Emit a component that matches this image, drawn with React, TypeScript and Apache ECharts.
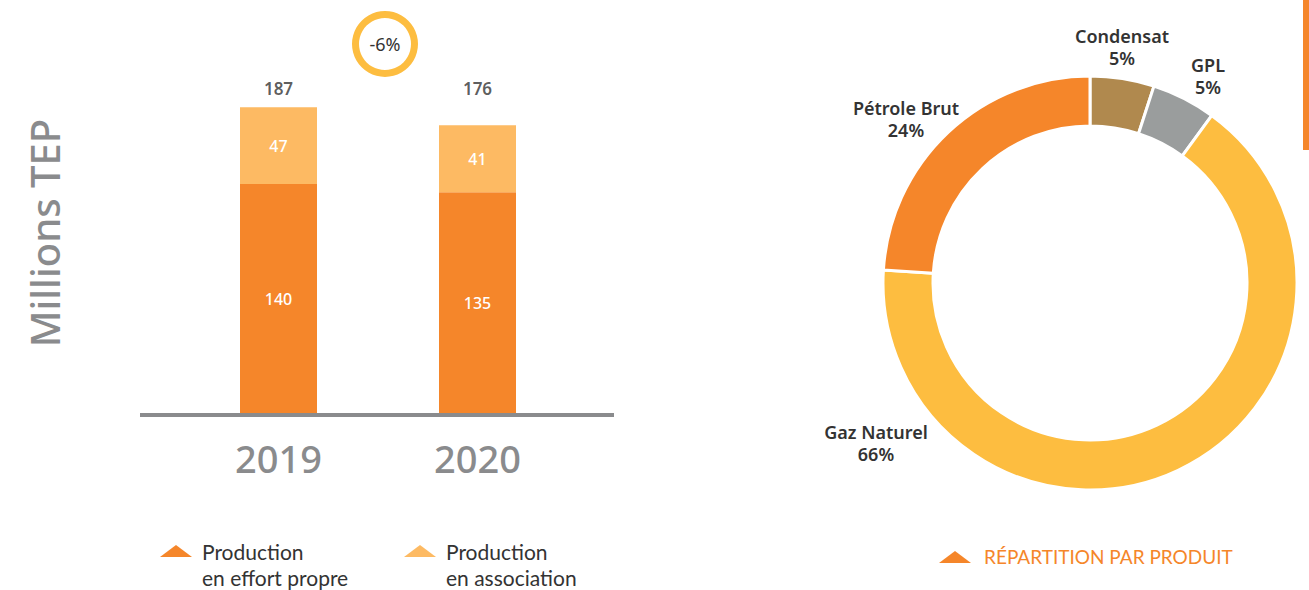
import React, { useEffect, useRef } from "react";
import * as echarts from "echarts";

// ---- Data ----
const years = ["2019", "2020"];
const effortPropre = [140, 135];
const association = [47, 41];
const products = ["Condensat", "GPL", "Gaz Naturel", "Pétrole Brut"];
const productShares = [5, 5, 66, 24];

const seriesNames = ["Production en effort propre", "Production en association"];
const legendLines = [
  ["Production", "en effort propre"],
  ["Production", "en association"],
];
const captionText = "RÉPARTITION PAR PRODUIT";

// ---- Styles ----
const ORANGE = "#F5862A";
const LIGHT_ORANGE = "#FDBA63";
const productColors = ["#B0894E", "#9A9D9D", "#FDBD40", "#F5862A"];
const DARK = "#333333";
const GREY = "#8A8B8D";
const Y_MAX = 200;

export default function App() {
  const ref = useRef<HTMLDivElement>(null);

  useEffect(() => {
    if (!ref.current) return;
    const chart = echarts.init(ref.current, undefined, { renderer: "svg" });

    const totals = years.map((_, i) => effortPropre[i] + association[i]);
    const change = Math.round(((totals[1] - totals[0]) / totals[0]) * 100);

    const labelPos: [number, number][] = [
      [1122, 47],
      [1208, 76],
      [876, 443],
      [906, 119],
    ];

    const makeLegend = (i: number, left: number) => ({
      data: [seriesNames[i]],
      left,
      top: 512,
      padding: 0,
      itemWidth: 32,
      itemHeight: 12,
      icon: "path://M0,12L16,0L32,12Z",
      selectedMode: false,
      formatter: () =>
        "{t|}\n" + legendLines[i].map((l) => `{t|${l}}`).join("\n"),
      textStyle: {
        fontFamily: "Lato",
        fontSize: 21,
        color: DARK,
        lineHeight: 26,
        rich: {
          t: {
            fontFamily: "Lato",
            fontSize: 21,
            color: DARK,
            lineHeight: 26,
            padding: [0, 0, 0, 5],
          },
        },
      },
    });

    const option: any = {
      animation: false,
      backgroundColor: "#ffffff",
      title: {
        text: captionText,
        left: 984,
        top: 544,
        padding: 0,
        textStyle: {
          fontFamily: "Lato",
          fontSize: 19,
          fontWeight: "normal",
          color: ORANGE,
          lineHeight: 24,
        },
      },
      legend: [makeLegend(0, 160), makeLegend(1, 404)],
      grid: { left: 179, right: 732, top: 86, bottom: 177, containLabel: false },
      xAxis: {
        type: "category",
        data: years,
        axisLine: { show: false },
        axisTick: { show: false },
        axisLabel: {
          margin: 26,
          fontFamily: "Noto Sans",
          fontSize: 38,
          fontWeight: 500,
          color: GREY,
        },
      },
      yAxis: {
        type: "value",
        min: 0,
        max: Y_MAX,
        show: false,
        splitLine: { show: false },
      },
      series: [
        {
          name: seriesNames[0],
          type: "bar",
          stack: "prod",
          barWidth: 77,
          data: effortPropre,
          itemStyle: { color: ORANGE },
          label: {
            show: true,
            position: "inside",
            color: "#ffffff",
            fontFamily: "Noto Sans",
            fontSize: 16,
            fontWeight: 500,
          },
          silent: true,
        },
        {
          name: seriesNames[1],
          type: "bar",
          stack: "prod",
          barWidth: 77,
          data: association,
          itemStyle: { color: LIGHT_ORANGE },
          label: {
            show: true,
            position: "inside",
            color: "#ffffff",
            fontFamily: "Noto Sans",
            fontSize: 16,
            fontWeight: 500,
          },
          silent: true,
        },
        {
          name: "Total",
          type: "scatter",
          data: totals.map((t, i) => ({ value: [i, Y_MAX], total: t })),
          symbolSize: 0,
          silent: true,
          label: {
            show: true,
            position: "inside",
            offset: [0, 2],
            formatter: (p: any) => String(totals[p.dataIndex]),
            color: DARK,
            fontFamily: "Noto Sans",
            fontSize: 17,
            fontWeight: 600,
          },
        },
        {
          name: "Produits",
          type: "pie",
          center: [1090, 283],
          radius: [157, 207],
          startAngle: 90,
          clockwise: true,
          silent: true,
          data: products.map((p, i) => ({
            name: p,
            value: productShares[i],
            itemStyle: { color: productColors[i] },
          })),
          itemStyle: { borderColor: "#ffffff", borderWidth: 3 },
          label: {
            show: true,
            position: "inside",
            rotate: 0,
            formatter: "{b}\n{c}%",
            color: DARK,
            fontFamily: "Noto Sans",
            fontSize: 18,
            fontWeight: 600,
            lineHeight: 22,
            align: "center",
            overflow: "none",
          },
          labelLine: { show: false },
          labelLayout: (params: any) => ({
            x: labelPos[params.dataIndex][0],
            y: labelPos[params.dataIndex][1],
            align: "center",
            verticalAlign: "middle",
          }),
          emphasis: { disabled: true },
        },
      ],
      graphic: [
        {
          type: "line",
          shape: { x1: 140, y1: 415, x2: 614, y2: 415 },
          style: { stroke: GREY, lineWidth: 4 },
          silent: true,
        },
        {
          type: "ring",
          shape: { cx: 385, cy: 44, r: 33, r0: 26 },
          style: { fill: "#FDBD40" },
          silent: true,
        },
        {
          type: "text",
          x: 385,
          y: 44,
          style: {
            text: `${change}%`,
            fill: DARK,
            font: "normal 18px 'Noto Sans'",
            align: "center",
            verticalAlign: "middle",
          },
          silent: true,
        },
        {
          type: "text",
          x: 44,
          y: 233,
          rotation: Math.PI / 2,
          style: {
            text: "Millions TEP",
            fill: GREY,
            font: "500 40px 'Noto Sans'",
            align: "center",
            verticalAlign: "middle",
          },
          silent: true,
        },
        {
          type: "polygon",
          shape: { points: [[939, 563], [955, 551], [971, 563]] },
          style: { fill: ORANGE },
          silent: true,
        },
        {
          type: "rect",
          shape: { x: 1303, y: 0, width: 6, height: 150 },
          style: { fill: ORANGE },
          silent: true,
        },
      ],
    };

    chart.setOption(option);
    return () => chart.dispose();
  }, []);

  return (
    <div
      ref={ref}
      style={{ position: "fixed", left: 0, top: 0, width: 1309, height: 590 }}
    />
  );
}
